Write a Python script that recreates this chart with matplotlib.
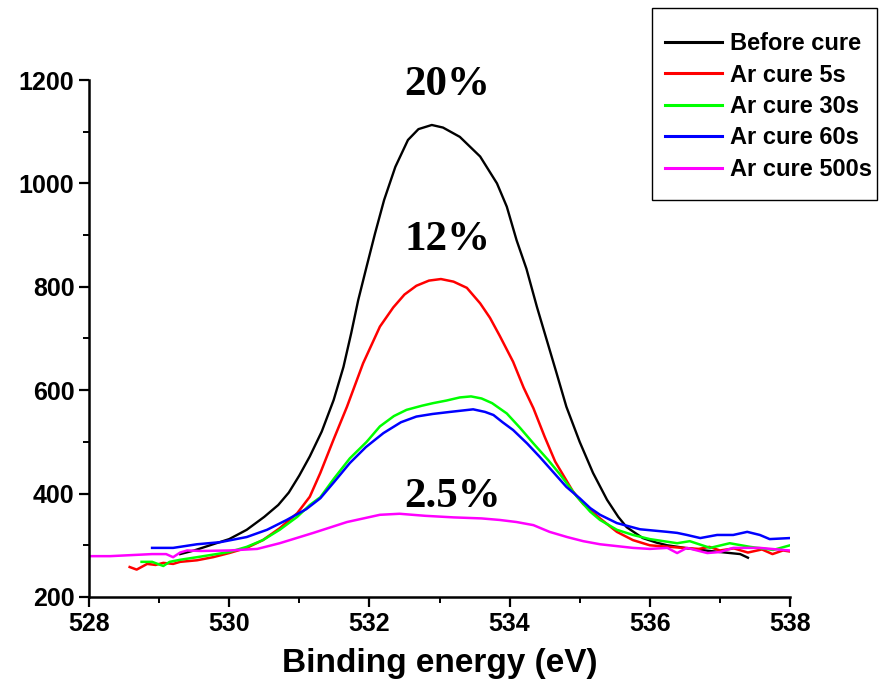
import matplotlib
matplotlib.use('Agg')
import matplotlib.pyplot as plt
from matplotlib.patches import Rectangle
from matplotlib.ticker import MultipleLocator

plt.rcParams['font.family'] = ['Liberation Sans', 'DejaVu Sans']
plt.rcParams['font.weight'] = 'bold'

# 数据
x_before = [529.3, 529.5, 529.77, 530.0, 530.25, 530.5, 530.7, 530.85, 531.0, 531.15,
            531.32, 531.49, 531.63, 531.74, 531.84, 531.96, 532.08, 532.21, 532.37, 532.55,
            532.7, 532.89, 533.05, 533.29, 533.58, 533.82, 533.96, 534.1, 534.24, 534.39,
            534.53, 534.67, 534.81, 535.0, 535.19, 535.39, 535.55, 535.67, 535.9, 536.1,
            536.25, 536.5, 536.72, 537.0, 537.29, 537.4]
y_before = [283, 290, 302, 312, 330, 355, 378, 402, 435, 472,
            520, 581, 645, 710, 774, 839, 903, 968, 1032, 1084,
            1105, 1113, 1108, 1090, 1052, 1000, 955, 890, 835, 761,
            697, 633, 568, 500, 440, 388, 355, 335, 314, 305,
            300, 295, 291, 287, 283, 276]

x_5s = [528.58, 528.68, 528.83, 528.95, 529.06, 529.2, 529.3, 529.54, 529.77, 530.0,
        530.25, 530.48, 530.72, 530.97, 531.15, 531.3, 531.49, 531.68, 531.91, 532.15,
        532.34, 532.5, 532.67, 532.85, 533.02, 533.2, 533.39, 533.58, 533.72, 533.86,
        534.05, 534.2, 534.34, 534.5, 534.65, 534.9, 535.05, 535.29, 535.53, 535.76,
        536.0, 536.47, 536.7, 536.85, 537.0, 537.2, 537.4, 537.6, 537.75, 537.9,
        538.0]
y_5s = [258, 253, 264, 262, 266, 264, 268, 271, 277, 285,
        295, 310, 333, 362, 394, 440, 505, 568, 652, 723,
        760, 785, 802, 812, 815, 810, 798, 768, 740, 705,
        655, 605, 565, 510, 462, 405, 380, 352, 326, 310,
        300, 295, 293, 297, 290, 294, 286, 292, 283, 290,
        288]

x_30s = [528.75, 528.9, 529.06, 529.15, 529.3, 529.54, 530.0, 530.25, 530.48, 530.72,
         530.97, 531.15, 531.3, 531.5, 531.72, 531.96, 532.15, 532.35, 532.53, 532.75,
         532.91, 533.1, 533.29, 533.45, 533.6, 533.75, 533.96, 534.15, 534.34, 534.55,
         534.72, 534.96, 535.15, 535.29, 535.53, 535.76, 536.0, 536.39, 536.57, 536.86,
         537.14, 537.43, 537.76, 538.0]
y_30s = [268, 268, 260, 268, 272, 277, 287, 297, 310, 330,
         355, 378, 393, 430, 468, 500, 530, 550, 562, 570,
         575, 580, 586, 588, 584, 575, 555, 527, 497, 465,
         437, 394, 365, 349, 330, 320, 312, 304, 308, 295,
         304, 297, 291, 300]

x_60s = [528.9, 529.2, 529.54, 529.87, 530.25, 530.54, 530.82, 531.1, 531.3, 531.5,
         531.72, 531.95, 532.2, 532.45, 532.67, 532.9, 533.15, 533.48, 533.65, 533.77,
         533.9, 534.05, 534.25, 534.43, 534.62, 534.81, 535.0, 535.15, 535.29, 535.53,
         535.86, 536.25, 536.39, 536.53, 536.72, 536.96, 537.19, 537.39, 537.57, 537.71,
         538.0]
y_60s = [295, 295, 302, 306, 316, 330, 349, 370, 391, 423,
         459, 490, 517, 538, 549, 554, 558, 563, 558, 552,
         538, 523, 497, 471, 442, 413, 391, 372, 359, 343,
         331, 326, 324, 320, 314, 320, 320, 326, 320, 312,
         314]

x_500s = [528.0, 528.3, 528.6, 528.9, 529.1, 529.2, 529.3, 529.4, 529.6, 530.0,
          530.4, 530.72, 531.2, 531.68, 532.15, 532.43, 532.8, 533.2, 533.6, 533.86,
          534.1, 534.34, 534.57, 534.82, 535.05, 535.29, 535.76, 536.0, 536.25, 536.39,
          536.53, 536.82, 537.0, 537.19, 537.57, 537.9, 538.0]
y_500s = [279, 279, 281, 283, 283, 277, 286, 290, 289, 290,
          293, 304, 324, 345, 359, 361, 357, 354, 352, 349,
          345, 339, 326, 316, 308, 302, 295, 293, 295, 285,
          295, 285, 287, 295, 295, 291, 290]

series = [
    ('Before cure', x_before, y_before, 'black', 1.7),
    ('Ar cure 5s', x_5s, y_5s, '#FF0000', 1.8),
    ('Ar cure 30s', x_30s, y_30s, '#00FF00', 1.8),
    ('Ar cure 60s', x_60s, y_60s, '#0000FF', 1.8),
    ('Ar cure 500s', x_500s, y_500s, '#FF00FF', 1.8),
]

# 百分比标注
ann_text = ['20%', '12%', '2.5%']
ann_x = [533.11, 533.11, 533.19]
ann_y = [1190, 890, 393]

fig = plt.figure(figsize=(8.81, 6.92), dpi=100)
ax = fig.add_axes([89 / 881, 1 - 597 / 692, (790 - 89) / 881, (597 - 80) / 692])

for label, xs, ys, color, lw in series:
    ax.plot(xs, ys, color=color, linewidth=lw, label=label)

for t, xa, ya in zip(ann_text, ann_x, ann_y):
    ax.text(xa, ya, t, ha='center', va='center', fontsize=31, fontweight='bold',
            family=['Liberation Serif', 'DejaVu Serif'])

ax.set_xlim(528, 538)
ax.set_ylim(200, 1200)
ax.xaxis.set_major_locator(MultipleLocator(2))
ax.xaxis.set_minor_locator(MultipleLocator(1))
ax.yaxis.set_major_locator(MultipleLocator(200))
ax.yaxis.set_minor_locator(MultipleLocator(100))

ax.spines['top'].set_visible(False)
ax.spines['right'].set_visible(False)
ax.spines['left'].set_linewidth(1.8)
ax.spines['bottom'].set_linewidth(1.8)
ax.tick_params(axis='both', which='major', direction='out', length=7, width=1.6, labelsize=18)
ax.tick_params(axis='both', which='minor', direction='out', length=4.5, width=1.4)
for lab in ax.get_xticklabels() + ax.get_yticklabels():
    lab.set_fontweight('bold')

ax.set_xlabel('Binding energy (eV)', fontsize=24, fontweight='bold', labelpad=9)

# 图例（无边框，外框单独绘制）
leg = fig.legend(loc='upper left', bbox_to_anchor=(665 / 881, 1 - 32 / 692),
                 frameon=False, fontsize=17, handlelength=2.4, handletextpad=0.35,
                 labelspacing=0.36, borderaxespad=0, borderpad=0)
for txt in leg.get_texts():
    txt.set_fontweight('bold')
for h in leg.get_lines():
    h.set_linewidth(2.2)

fig.patches.append(Rectangle((652 / 881, 1 - 200 / 692), (877 - 652) / 881, (200 - 8) / 692,
                             transform=fig.transFigure, fill=False, edgecolor='black',
                             linewidth=1.0))

fig.savefig('out.png', dpi=100)
